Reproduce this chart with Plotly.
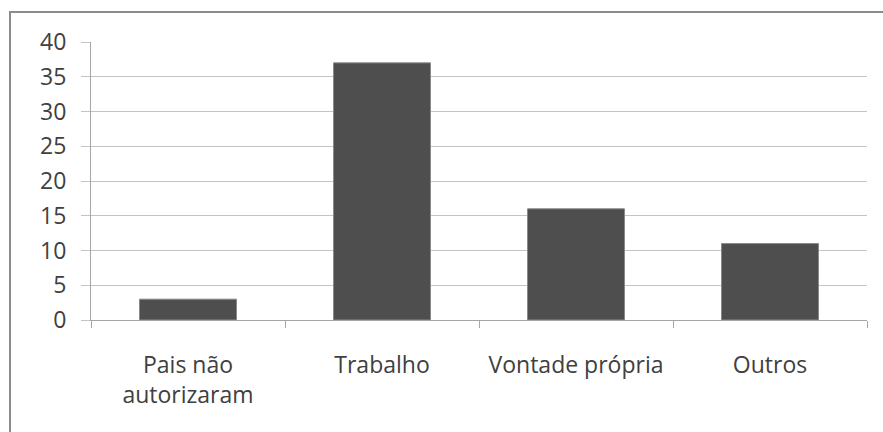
import plotly.graph_objects as go

categories = ["Pais não<br>autorizaram", "Trabalho", "Vontade própria", "Outros"]
values = [3, 37, 16, 11]
y_ticks = [0, 5, 10, 15, 20, 25, 30, 35, 40]

W, H = 883, 432
L, R, T, B = 91, 16, 42, 112
pw, ph = W - L - R, H - T - B

fig = go.Figure(go.Bar(
    x=categories, y=values,
    marker=dict(color="#4e4e4e", line=dict(color="#8a8a8a", width=1)),
))

font = dict(family="'Open Sans', sans-serif", size=23, color="#404040")

fig.update_layout(
    width=W, height=H,
    margin=dict(l=L, r=R, t=T, b=B),
    paper_bgcolor="white", plot_bgcolor="white",
    bargap=0.5,
    showlegend=False,
    font=font,
    xaxis=dict(
        type="category",
        showgrid=False,
        showline=True, linecolor="#a6a6a6", linewidth=1,
        ticks="outside", tickson="boundaries", ticklen=7, tickcolor="#a6a6a6",
        ticklabelstandoff=24,
        tickfont=font,
    ),
    yaxis=dict(
        range=[0, 40],
        tickvals=y_ticks,
        showgrid=True, gridcolor="#c4c4c4", gridwidth=1,
        showline=True, linecolor="#a6a6a6", linewidth=1,
        ticks="outside", ticklen=9, tickcolor="#c4c4c4",
        ticklabelstandoff=10,
        zeroline=False,
        tickfont=font,
    ),
    shapes=[dict(
        type="rect", xref="paper", yref="paper",
        x0=(10 - L) / pw, x1=(W + 20 - L) / pw,
        y0=(H - B - (H + 20)) / ph, y1=(H - B - 12) / ph,
        line=dict(color="#8c8c8c", width=2), fillcolor="rgba(0,0,0,0)",
        layer="below",
    )],
)

fig.write_html("out.html")
